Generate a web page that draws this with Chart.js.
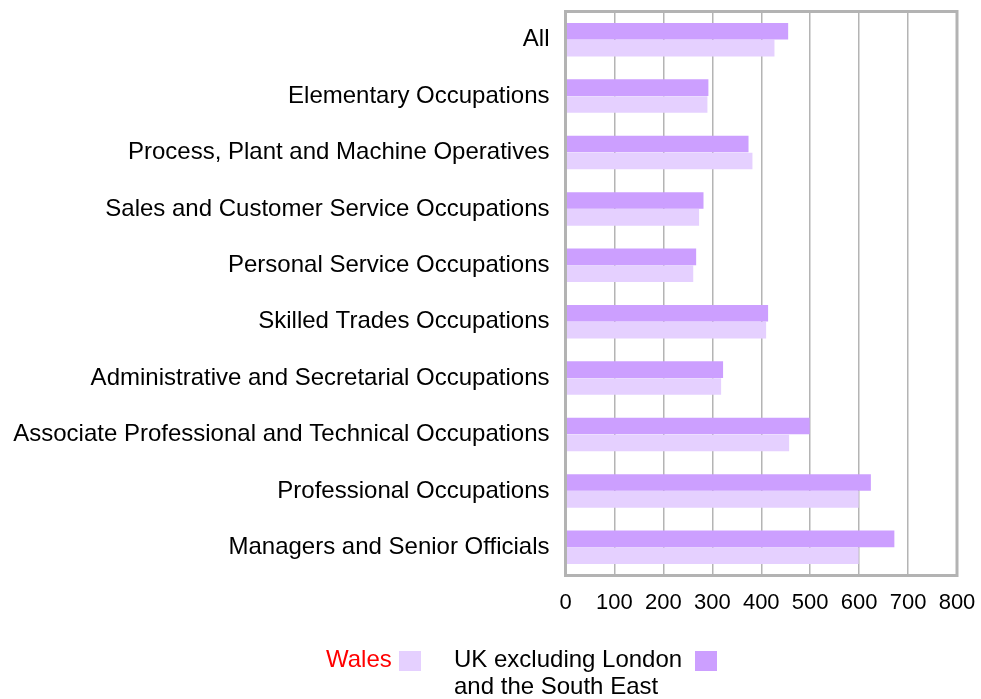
<!DOCTYPE html>
<html>
<head>
<meta charset="utf-8">
<script src="https://cdn.jsdelivr.net/npm/chart.js@4/dist/chart.umd.min.js"></script>
<style>
  html, body { margin: 0; padding: 0; background: #fff; }
  #wrap { position: relative; width: 981px; height: 699px; }
  canvas { position: absolute; left: 0; top: 0; }
  .leg { position: absolute; font-family: "Liberation Sans", Arial, Helvetica, sans-serif; font-size: 24px; line-height: 27px; color: #000; white-space: nowrap; }
  .box { position: absolute; width: 22px; height: 20px; }
</style>
</head>
<body>
<div id="wrap">
  <canvas id="c" width="981" height="699"></canvas>
  <div class="leg" style="left:326px; top:645px; color:#ff0000;">Wales</div>
  <div class="box" style="left:399px; top:651px; background:#e5d0ff;"></div>
  <div class="leg" style="left:454px; top:645px;">UK excluding London<br>and the South East</div>
  <div class="box" style="left:695px; top:651px; background:#cc9fff;"></div>
</div>
<script>
const categories = [
  "All",
  "Elementary Occupations",
  "Process, Plant and Machine Operatives",
  "Sales and Customer Service Occupations",
  "Personal Service Occupations",
  "Skilled Trades Occupations",
  "Administrative and Secretarial Occupations",
  "Associate Professional and Technical Occupations",
  "Professional Occupations",
  "Managers and Senior Officials"
];
const ukExclLondonSE = [455, 292, 374, 282, 267, 414, 322, 499, 624, 672];
const wales = [427, 290, 382, 273, 261, 410, 318, 457, 599, 599];
const xTicks = [0, 100, 200, 300, 400, 500, 600, 700, 800];

const frame = {
  id: 'frame',
  afterDraw(chart) {
    const a = chart.chartArea, ctx = chart.ctx;
    ctx.save();
    ctx.strokeStyle = '#b3b3b3';
    ctx.lineWidth = 3;
    ctx.strokeRect(a.left, a.top, a.right - a.left, a.bottom - a.top);
    ctx.restore();
  }
};

function zeroPad(scale) {
  scale.paddingTop = 0; scale.paddingBottom = 0;
  scale.paddingLeft = 0; scale.paddingRight = 0;
}

new Chart(document.getElementById('c'), {
  type: 'bar',
  data: {
    labels: categories,
    datasets: [
      { label: 'UK excluding London and the South East', data: ukExclLondonSE, backgroundColor: '#cc9fff', borderWidth: 0 },
      { label: 'Wales', data: wales, backgroundColor: '#e5d0ff', borderWidth: 0 }
    ]
  },
  options: {
    indexAxis: 'y',
    responsive: false,
    animation: false,
    devicePixelRatio: 1,
    layout: { padding: { top: 11.5, right: 24, bottom: 89, left: 0 } },
    categoryPercentage: 0.6,
    barPercentage: 0.98,
    plugins: { legend: { display: false }, tooltip: { enabled: false } },
    scales: {
      x: {
        min: 0, max: 800,
        afterBuildTicks(scale) { scale.ticks = xTicks.map(v => ({ value: v })); },
        afterFit(scale) { scale.height = 699 - 89 - 575.5; zeroPad(scale); },
        border: { display: false },
        grid: { color: '#b4b4b4', lineWidth: 1.5, drawTicks: false },
        ticks: { color: '#000', padding: 14, maxRotation: 0, autoSkip: false,
          font: { family: '"Liberation Sans", Arial, Helvetica, sans-serif', size: 22 } }
      },
      y: {
        afterFit(scale) { scale.width = 565.5; zeroPad(scale); },
        border: { display: false },
        grid: { display: false, drawTicks: false },
        ticks: { color: '#000', padding: 16, autoSkip: false,
          font: { family: '"Liberation Sans", Arial, Helvetica, sans-serif', size: 24 } }
      }
    }
  },
  plugins: [frame]
});
</script>
</body>
</html>
